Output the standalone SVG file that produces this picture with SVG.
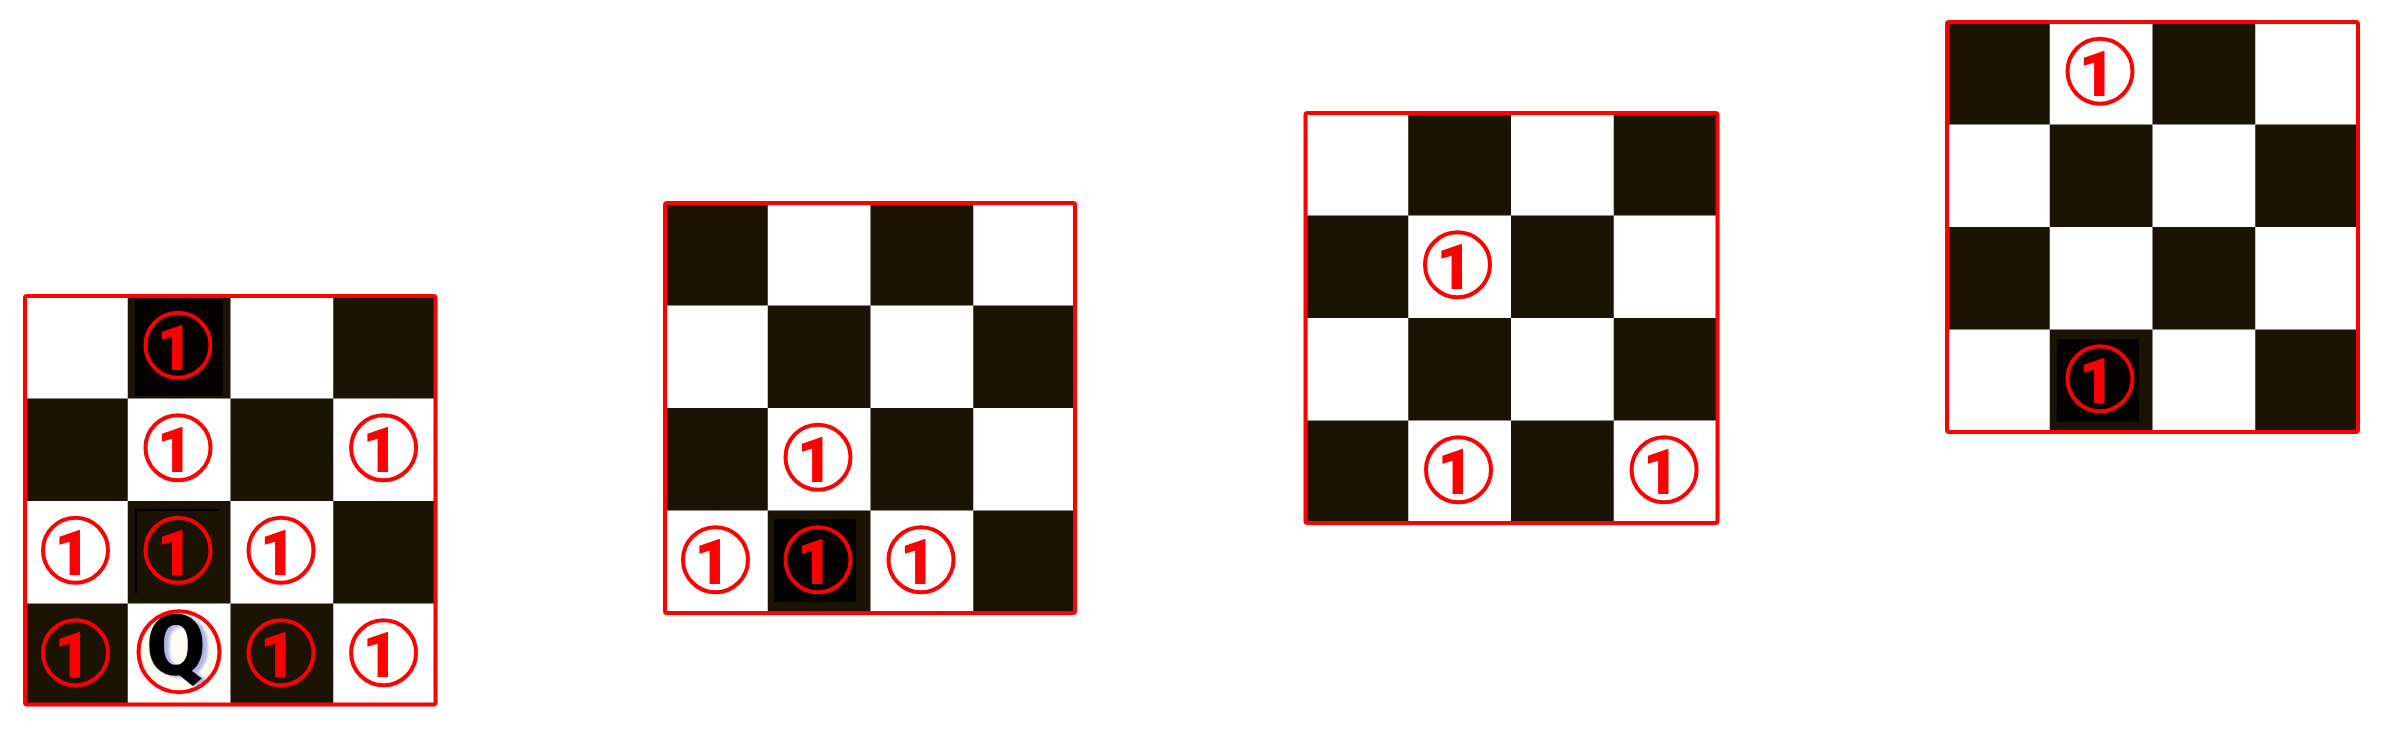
<svg xmlns="http://www.w3.org/2000/svg" xmlns:xlink="http://www.w3.org/1999/xlink" width="2384" height="736" viewBox="0 0 2384 736">
<style>
.bg{fill:#ffffff}
.dk{fill:#1b1304}
.patch{fill:#030200}
.frame{fill:none;stroke:#ff0000;stroke-width:4;stroke-linejoin:round}
.ring{fill:none;stroke:#ff0000;stroke-width:4}
.one{font-family:Roboto,"Noto Sans",sans-serif;font-weight:900;font-size:63px;fill:#ff0000;text-anchor:middle}
.q{font-family:Roboto,"Noto Sans",sans-serif;font-weight:900;font-size:86px;text-anchor:middle;fill:#000}
</style>
<defs>
<filter id="qshadow" x="-30%" y="-30%" width="160%" height="160%">
<feOffset in="SourceAlpha" dx="5" dy="2" result="off"/>
<feGaussianBlur in="off" stdDeviation="1.5" result="blur"/>
<feFlood flood-color="#b0b5e6"/>
<feComposite in2="blur" operator="in" result="sh"/>
<feMerge><feMergeNode in="sh"/><feMergeNode in="SourceGraphic"/></feMerge>
</filter>
<g id="gridW">
<rect class="bg" x="0" y="0" width="411" height="410"/>
<rect class="dk" x="102.75" y="0" width="102.75" height="102.5"/>
<rect class="dk" x="308.25" y="0" width="102.75" height="102.5"/>
<rect class="dk" x="0" y="102.5" width="102.75" height="102.5"/>
<rect class="dk" x="205.5" y="102.5" width="102.75" height="102.5"/>
<rect class="dk" x="102.75" y="205" width="102.75" height="102.5"/>
<rect class="dk" x="308.25" y="205" width="102.75" height="102.5"/>
<rect class="dk" x="0" y="307.5" width="102.75" height="102.5"/>
<rect class="dk" x="205.5" y="307.5" width="102.75" height="102.5"/>
</g>
<g id="gridB">
<rect class="bg" x="0" y="0" width="411" height="410"/>
<rect class="dk" x="0" y="0" width="102.75" height="102.5"/>
<rect class="dk" x="205.5" y="0" width="102.75" height="102.5"/>
<rect class="dk" x="102.75" y="102.5" width="102.75" height="102.5"/>
<rect class="dk" x="308.25" y="102.5" width="102.75" height="102.5"/>
<rect class="dk" x="0" y="205" width="102.75" height="102.5"/>
<rect class="dk" x="205.5" y="205" width="102.75" height="102.5"/>
<rect class="dk" x="102.75" y="307.5" width="102.75" height="102.5"/>
<rect class="dk" x="308.25" y="307.5" width="102.75" height="102.5"/>
</g>
</defs>

<g id="board1" transform="translate(25,296)">
<use href="#gridW" xlink:href="#gridW"/>
<rect class="patch" x="110" y="3.3" width="88" height="96.7"/>
<path d="M111,297 V214 H194" fill="none" stroke="#000" stroke-width="2.5"/>
<circle cx="154" cy="355.7" r="42" fill="#fffdf2"/>
<text class="q" x="151" y="379" filter="url(#qshadow)">Q</text>
<circle class="ring" cx="154" cy="355.7" r="40.5"/>
<circle class="ring" cx="153" cy="49.25" r="32.5"/><text class="one" x="150" y="73.75">1</text>
<circle class="ring" cx="153" cy="151.75" r="32.5"/><text class="one" x="150" y="176.25">1</text>
<circle class="ring" cx="358.6" cy="151.75" r="32.5"/><text class="one" x="355.6" y="176.25">1</text>
<circle class="ring" cx="50.5" cy="254.25" r="32.5"/><text class="one" x="47.5" y="278.75">1</text>
<circle class="ring" cx="153" cy="254.25" r="32.5"/><text class="one" x="150" y="278.75">1</text>
<circle class="ring" cx="256" cy="254.25" r="32.5"/><text class="one" x="253" y="278.75">1</text>
<circle class="ring" cx="50.5" cy="356.75" r="32.5"/><text class="one" x="47.5" y="381.25">1</text>
<circle class="ring" cx="256" cy="356.75" r="32.5"/><text class="one" x="253" y="381.25">1</text>
<circle class="ring" cx="358.6" cy="356.75" r="32.5"/><text class="one" x="355.6" y="381.25">1</text>
<rect class="frame" x="0" y="0" width="410.5" height="408.5" rx="2"/>
</g>

<g id="board2" transform="translate(665,203)">
<use href="#gridB" xlink:href="#gridB"/>
<rect class="patch" x="109" y="316.3" width="82" height="82.4"/>
<circle class="ring" cx="153" cy="254.25" r="32.5"/><text class="one" x="150" y="278.75">1</text>
<circle class="ring" cx="50.5" cy="356.75" r="32.5"/><text class="one" x="47.5" y="381.25">1</text>
<circle class="ring" cx="153" cy="356.75" r="32.5"/><text class="one" x="150" y="381.25">1</text>
<circle class="ring" cx="256" cy="356.75" r="32.5"/><text class="one" x="253" y="381.25">1</text>
<rect class="frame" x="0" y="0" width="410" height="410" rx="2"/>
</g>

<g id="board3" transform="translate(1305.5,113)">
<use href="#gridW" xlink:href="#gridW"/>
<circle class="ring" cx="152" cy="151.75" r="32.5"/><text class="one" x="149" y="176.25">1</text>
<circle class="ring" cx="153" cy="356.75" r="32.5"/><text class="one" x="150" y="381.25">1</text>
<circle class="ring" cx="358.6" cy="356.75" r="32.5"/><text class="one" x="355.6" y="381.25">1</text>
<rect class="frame" x="0" y="0" width="412" height="410" rx="2"/>
</g>

<g id="board4" transform="translate(1947,22)">
<use href="#gridB" xlink:href="#gridB"/>
<rect class="patch" x="109.7" y="317.3" width="82.3" height="82.4"/>
<circle class="ring" cx="153" cy="49.25" r="32.5"/><text class="one" x="150" y="73.75">1</text>
<circle class="ring" cx="153" cy="356.75" r="32.5"/><text class="one" x="150" y="381.25">1</text>
<rect class="frame" x="0" y="0" width="411" height="410" rx="2"/>
</g>
</svg>
